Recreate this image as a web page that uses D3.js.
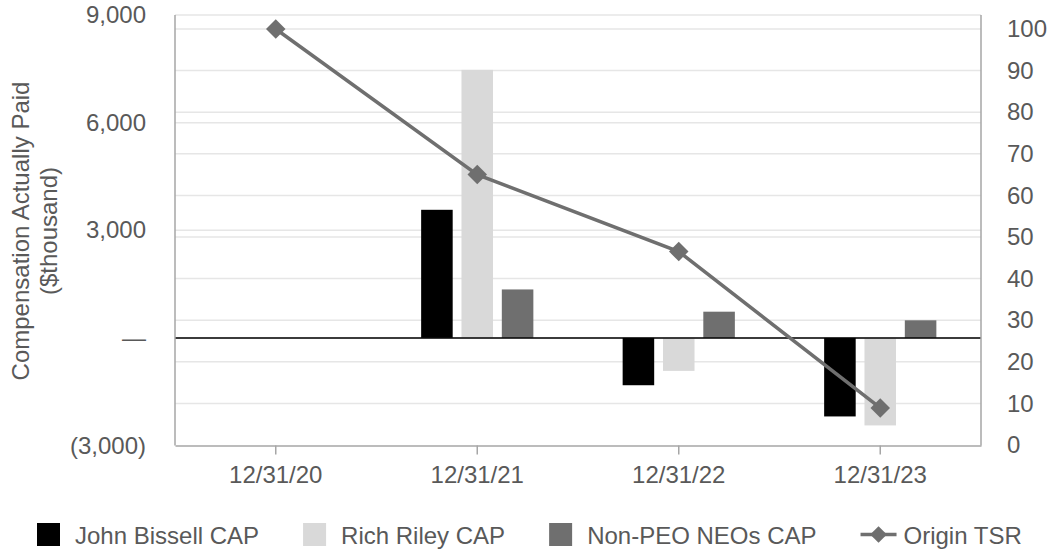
<!DOCTYPE html>
<html>
<head>
<meta charset="utf-8">
<script src="https://cdn.jsdelivr.net/npm/d3@7"></script>
<style>
  html, body { margin: 0; padding: 0; background: #fff; }
  svg { display: block; }
  text { font-family: "Liberation Sans", Arial, sans-serif; fill: #595959; }
</style>
</head>
<body>
<svg id="chart" width="1048" height="553"></svg>
<script>
// ---- data ----
const categories = ["12/31/20", "12/31/21", "12/31/22", "12/31/23"];
const seriesNames = ["John Bissell CAP", "Rich Riley CAP", "Non-PEO NEOs CAP"];
const johnBissellCAP = [null, 3570, -1320, -2190];
const richRileyCAP   = [null, 7470, -920, -2440];
const nonPeoNeosCAP  = [null, 1350, 730, 490];
const originTSR      = [100, 65, 46.5, 8.9];
const leftTicks  = [-3000, 0, 3000, 6000, 9000];
const rightTicks = [0, 10, 20, 30, 40, 50, 60, 70, 80, 90, 100];
const lineName = "Origin TSR";

const seriesValues = [johnBissellCAP, richRileyCAP, nonPeoNeosCAP];
const colors = ["#000000", "#d9d9d9", "#6f6f6f"];
const lineColor = "#6f6f6f";
const FS = 24;

// ---- layout ----
const svg = d3.select("#chart");
const plotL = 175, plotR = 981, plotT = 15, plotB = 445.5;

const x = d3.scaleBand().domain(categories).range([plotL, plotR]).paddingInner(0).paddingOuter(0);
const xInner = d3.scaleBand().domain(seriesNames).range([-60.5, 60.5]).paddingInner(0.218).paddingOuter(0.109);
const yL = d3.scaleLinear().domain([-3000, 9000]).range([plotB, plotT]);
const yR = d3.scaleLinear().domain([0, 100]).range([445, 29]);

const fmtL = v => v === 0 ? "\u2014" : (v < 0 ? "(" + d3.format(",")(-v) + ")" : d3.format(",")(v));

// gridlines (right axis)
svg.append("g").selectAll("line").data(rightTicks.filter(t => t > 0)).join("line")
  .attr("x1", plotL).attr("x2", plotR)
  .attr("y1", d => yR(d)).attr("y2", d => yR(d))
  .attr("stroke", "#e6e6e6").attr("stroke-width", 1.5);
// gridlines (left axis)
svg.append("g").selectAll("line").data(leftTicks.filter(t => t > -3000)).join("line")
  .attr("x1", plotL).attr("x2", plotR)
  .attr("y1", d => yL(d)).attr("y2", d => yL(d))
  .attr("stroke", "#e6e6e6").attr("stroke-width", 1.5);

// bars
const barData = [];
categories.forEach((c, i) => {
  seriesNames.forEach((s, j) => {
    const v = seriesValues[j][i];
    if (v !== null) barData.push({ c, s, v, color: colors[j] });
  });
});
svg.append("g").selectAll("rect").data(barData).join("rect")
  .attr("x", d => x(d.c) + x.bandwidth() / 2 + xInner(d.s))
  .attr("width", xInner.bandwidth())
  .attr("y", d => Math.min(yL(d.v), yL(0)))
  .attr("height", d => Math.abs(yL(d.v) - yL(0)))
  .attr("fill", d => d.color);

// zero line
svg.append("line").attr("x1", plotL).attr("x2", plotR)
  .attr("y1", yL(0)).attr("y2", yL(0))
  .attr("stroke", "#000").attr("stroke-width", 1.5);

// axes frame
const axisColor = "#a6a6a6";
svg.append("line").attr("x1", plotL).attr("x2", plotL).attr("y1", plotT).attr("y2", plotB)
  .attr("stroke", axisColor).attr("stroke-width", 1.5);
svg.append("line").attr("x1", plotR).attr("x2", plotR).attr("y1", plotT).attr("y2", plotB)
  .attr("stroke", axisColor).attr("stroke-width", 1.5);

// bottom axis
const xAxis = d3.axisBottom(x).tickSize(9).tickPadding(11).tickSizeOuter(0);
const gx = svg.append("g").attr("transform", `translate(0,${plotB})`).call(xAxis);
gx.select(".domain").attr("stroke", axisColor).attr("stroke-width", 1.5);
gx.selectAll(".tick line").attr("stroke", axisColor).attr("stroke-width", 1.5);
gx.selectAll(".tick text").attr("font-size", FS).attr("fill", "#595959")
  .attr("font-family", "Liberation Sans, Arial, sans-serif");

// left axis labels
const yAxisL = d3.axisLeft(yL).tickValues(leftTicks).tickFormat(fmtL).tickSize(0).tickPadding(29);
const gyl = svg.append("g").attr("transform", `translate(${plotL},0)`).call(yAxisL);
gyl.select(".domain").remove();
gyl.selectAll(".tick text").attr("font-size", FS).attr("fill", "#595959")
  .attr("font-family", "Liberation Sans, Arial, sans-serif");

// right axis labels
const yAxisR = d3.axisRight(yR).tickValues(rightTicks).tickSize(0).tickPadding(26);
const gyr = svg.append("g").attr("transform", `translate(${plotR},0)`).call(yAxisR);
gyr.select(".domain").remove();
gyr.selectAll(".tick text").attr("font-size", FS).attr("fill", "#595959")
  .attr("font-family", "Liberation Sans, Arial, sans-serif");

// left axis title
const title = svg.append("text").attr("transform", "translate(0,231) rotate(-90)")
  .attr("text-anchor", "middle").attr("font-size", FS);
title.append("tspan").attr("x", 0).attr("y", 29).text("Compensation Actually Paid");
title.append("tspan").attr("x", 0).attr("y", 57).text("($thousand)");

// TSR line
const line = d3.line().x((d, i) => x(categories[i]) + x.bandwidth() / 2).y(d => yR(d));
svg.append("path").datum(originTSR).attr("d", line)
  .attr("fill", "none").attr("stroke", lineColor).attr("stroke-width", 3.5);
const diamond = d3.symbol().type(d3.symbolSquare).size(190);
svg.append("g").selectAll("path").data(originTSR).join("path")
  .attr("d", diamond)
  .attr("transform", (d, i) => `translate(${x(categories[i]) + x.bandwidth() / 2},${yR(d)}) rotate(45)`)
  .attr("fill", lineColor);

// legend
const legend = svg.append("g");
let lx = 37;
const ly = 534.5;
seriesNames.forEach((s, j) => {
  legend.append("rect").attr("x", lx).attr("y", ly - 11.5).attr("width", 23).attr("height", 23).attr("fill", colors[j]);
  lx += 23 + 15;
  const t = legend.append("text").attr("x", lx).attr("y", ly + 9).attr("font-size", FS).text(s);
  lx += t.node().getComputedTextLength() + 44;
});
legend.append("line").attr("x1", lx).attr("x2", lx + 36).attr("y1", ly).attr("y2", ly)
  .attr("stroke", lineColor).attr("stroke-width", 3.5);
legend.append("path").attr("d", d3.symbol().type(d3.symbolSquare).size(140))
  .attr("transform", `translate(${lx + 18},${ly}) rotate(45)`).attr("fill", lineColor);
legend.append("text").attr("x", lx + 43).attr("y", ly + 9).attr("font-size", FS).text(lineName);
</script>
</body>
</html>
